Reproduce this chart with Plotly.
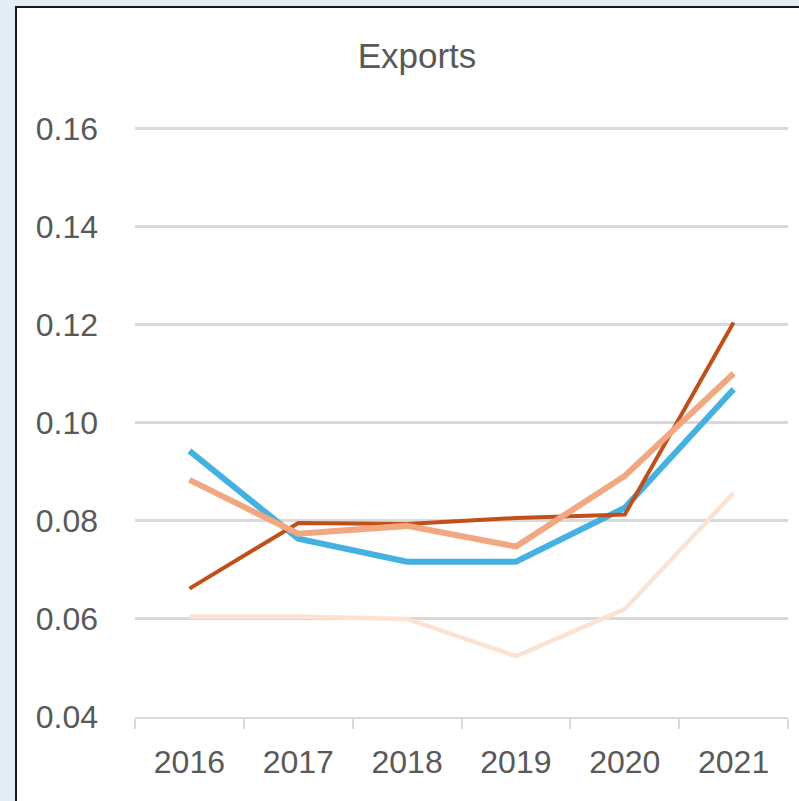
import plotly.graph_objects as go

years = ["2016", "2017", "2018", "2019", "2020", "2021"]
series_blue = [0.0943, 0.0764, 0.0717, 0.0717, 0.0827, 0.1069]
series_dark = [0.0662, 0.0796, 0.0794, 0.0806, 0.0813, 0.1205]
series_salmon = [0.0884, 0.0774, 0.0790, 0.0748, 0.0892, 0.1101]
series_peach = [0.0605, 0.0605, 0.0600, 0.0524, 0.0620, 0.0857]
y_ticks = [0.04, 0.06, 0.08, 0.10, 0.12, 0.14, 0.16]
y_labels = ["0.04", "0.06", "0.08", "0.10", "0.12", "0.14", "0.16"]

fig = go.Figure()
for vals, color, w in [
    (series_peach, "#fbe3d4", 4.5),
    (series_blue, "#45b1e1", 6),
    (series_dark, "#c0501a", 4),
    (series_salmon, "#f1a880", 6),
]:
    fig.add_trace(go.Scatter(x=years, y=vals, mode="lines",
                             line=dict(color=color, width=w), showlegend=False,
                             hoverinfo="skip"))

W, H = 799, 801
L, T = 135, 127
R = W - 788
B = H - 717
pw, ph = W - L - R, H - T - B

fig.add_shape(type="rect", xref="paper", yref="paper",
              x0=(16 - L) / pw, x1=(W + 20 - L) / pw,
              y0=-(B + 20) / ph, y1=(717 - 7) / ph,
              fillcolor="white", line=dict(color="#1a1a1a", width=2), layer="below")

fig.update_layout(
    width=W, height=H,
    margin=dict(l=L, r=R, t=T, b=B),
    paper_bgcolor="#e4edf6",
    plot_bgcolor="rgba(0,0,0,0)",
    font=dict(family="Liberation Sans, Arial, sans-serif", color="#595959"),
    title=dict(text="Exports", x=417 / W, xref="container", xanchor="center",
               y=1 - 56 / H, yref="container", yanchor="middle",
               font=dict(size=35, color="#595959")),
    xaxis=dict(type="category", range=[-0.5, 5.5], tickson="boundaries",
               ticks="outside", ticklen=10, tickcolor="#d9d9d9", tickwidth=2,
               showline=True, linecolor="#d9d9d9", linewidth=2,
               showgrid=False, tickfont=dict(size=32, color="#595959"),
               ticklabelstandoff=16),
    yaxis=dict(range=[0.04, 0.1604], tickvals=y_ticks, ticktext=y_labels,
               showgrid=True, gridcolor="#d9d9d9", gridwidth=2.5,
               zeroline=False, showline=False,
               tickfont=dict(size=32, color="#595959"),
               ticklabelstandoff=36),
)

fig.write_html("out.html", config={"displayModeBar": False},
               post_script="document.body.style.margin='0';document.body.style.overflow='hidden';")
